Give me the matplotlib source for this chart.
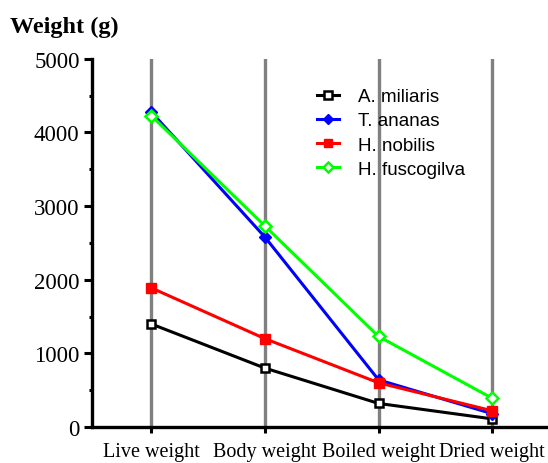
import matplotlib
matplotlib.use("Agg")
import matplotlib.pyplot as plt
from matplotlib.ticker import MultipleLocator

categories = ["Live weight", "Body weight", "Boiled weight", "Dried weight"]
a_miliaris = [1400, 800, 320, 110]
t_ananas = [4280, 2580, 640, 180]
h_nobilis = [1890, 1200, 600, 220]
h_fuscogilva = [4230, 2730, 1230, 390]

fig = plt.figure(figsize=(5.48, 4.64), dpi=100)
ax = fig.add_axes([0.168, 0.0776, 0.832, 0.7934])
x = list(range(len(categories)))

for xi in x:
    ax.axvline(xi, color="#808080", lw=2.4, zorder=0)

ax.plot(x, a_miliaris, color="black", lw=2.2, marker="s", ms=6, mfc="white", mec="black", mew=1.8, label="A. miliaris", zorder=3)
ax.plot(x, t_ananas, color="#0000ff", lw=2.2, marker="D", ms=6, mfc="#0000ff", mec="#0000ff", label="T. ananas", zorder=3)
ax.plot(x, h_nobilis, color="#ff0000", lw=2.2, marker="s", ms=7, mfc="#ff0000", mec="#ff0000", label="H. nobilis", zorder=4)
ax.plot(x, h_fuscogilva, color="#00ff00", lw=2.2, marker="D", ms=6, mfc="white", mec="#00ff00", mew=1.8, label="H. fuscogilva", zorder=3)

ax.set_xlim(-0.52, 3.49)
ax.set_ylim(0, 5000)
ax.yaxis.set_major_locator(MultipleLocator(1000))
ax.yaxis.set_minor_locator(MultipleLocator(500))
ax.set_xticks(x)
ax.set_xticklabels(categories, fontfamily="Liberation Serif", fontsize=14.5)
for lab in ax.get_yticklabels():
    lab.set_fontfamily("Liberation Serif")
    lab.set_fontsize(16.5)

for s in ["top", "right"]:
    ax.spines[s].set_visible(False)
for s in ["left", "bottom"]:
    ax.spines[s].set_linewidth(2.4)
ax.tick_params(axis="y", which="major", length=5.5, width=2.2, pad=3.5)
ax.tick_params(axis="y", which="minor", length=2.5, width=2.2)
ax.tick_params(axis="x", which="major", length=4.5, width=2.2, pad=6)

leg = ax.legend(loc="upper left", bbox_to_anchor=(0.493, 0.921), frameon=False,
                prop={"family": "Liberation Sans", "size": 13.5}, handlelength=1.17,
                labelspacing=0.38, handletextpad=1.05, borderpad=0, borderaxespad=0,
                markerscale=0.85)

fig.text(0.018, 0.928, "Weight (g)", fontfamily="Liberation Serif", fontweight="bold",
         fontsize=17.5, va="baseline")

fig.savefig("out.png", dpi=100)
